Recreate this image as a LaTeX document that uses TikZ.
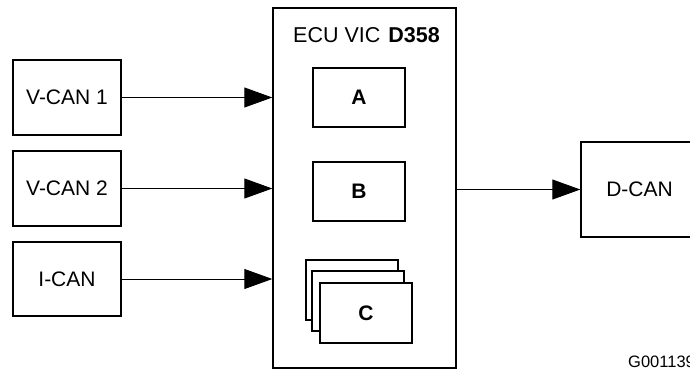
\documentclass[tikz,border=0pt]{standalone}
\usepackage{fontspec}
\setmainfont{Liberation Sans}
\usetikzlibrary{arrows.meta}
\begin{document}
\begin{tikzpicture}[x=1pt,y=-1pt,
  box/.style={draw, line width=1.4pt, inner sep=0pt, font=\fontsize{21}{24}\selectfont},
  sub/.style={box, fill=white, minimum width=92pt, minimum height=59pt, font=\fontsize{21}{24}\selectfont\bfseries},
  conn/.style={line width=0.9pt, -{Triangle[length=28pt,width=20pt]}},
  txt/.style={inner sep=0pt, font=\fontsize{21.5}{24}\selectfont}]
\useasboundingbox (0,0) rectangle (690,370);
\clip (0,0) rectangle (690,370);
% left sources
\node[box, minimum width=108pt, minimum height=75pt] (v1) at (67,97.5) {V-CAN 1};
\node[box, minimum width=108pt, minimum height=75pt] (v2) at (67,188.5) {V-CAN 2};
\node[box, minimum width=108pt, minimum height=74pt] (ic) at (67,279) {I-CAN};
% ECU
\node[box, minimum width=183pt, minimum height=360pt] (ecu) at (364.5,188) {};
\node[txt, anchor=base west] (t1) at (293,42) {ECU VIC};
\node[txt, anchor=base east, font=\fontsize{21.5}{24}\selectfont\bfseries] (t2) at (440,42) {D358};
\node[sub] (a) at (359,97.5) {A};
\node[sub] (b) at (359,191.5) {B};
\node[sub, minimum height=60pt] (c3) at (352,290) {};
\node[sub, minimum height=60pt] (c2) at (358,301) {};
\node[sub, minimum height=60pt] (c1) at (366,313) {C};
% D-CAN
\node[box, minimum width=117pt, minimum height=95pt] (dc) at (639.5,189.5) {};
\node[txt, font=\fontsize{21}{24}\selectfont] (dct) at (639.5,189.5) {D-CAN};
% connectors
\draw[conn] (v1.east) -- (v1.east -| ecu.west);
\draw[conn] (v2.east) -- (v2.east -| ecu.west);
\draw[conn] (ic.east) -- (ic.east -| ecu.west);
\draw[conn] (ecu.east |- dc.west) -- (dc.west);
% code
\node[inner sep=0pt, anchor=base west, font=\fontsize{16.5}{19}\selectfont] (g) at (628,367) {G001139};
\end{tikzpicture}
\end{document}
